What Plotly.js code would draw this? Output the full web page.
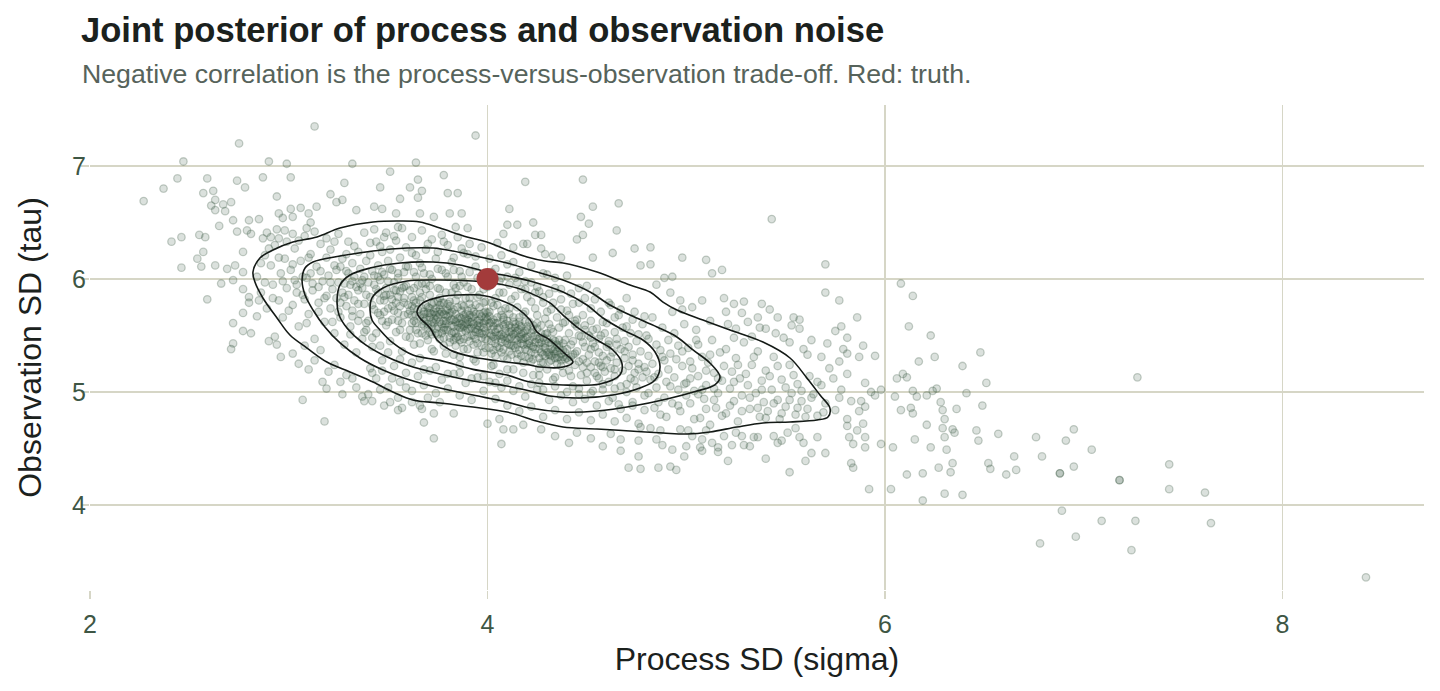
<!DOCTYPE html>
<html>
<head>
<meta charset="utf-8">
<script src="https://cdn.plot.ly/plotly-3.0.1.min.js"></script>
<style>
  html, body { margin: 0; padding: 0; background: #ffffff; }
  #chart { width: 1440px; height: 691px; }
</style>
</head>
<body>
<div id="chart"></div>
<script>
// Posterior draws of (sigma, tau): outlying draws
const tailDraws = [
  [3.13,7.35],[2.75,7.20],[2.47,7.04],[2.90,7.04],[2.99,7.02],[3.32,7.02],[3.64,7.03],[3.51,6.95],[3.78,6.92],[2.44,6.89],
  [2.59,6.89],[2.74,6.87],[2.87,6.90],[3.01,6.90],[3.28,6.85],[3.65,6.88],[2.37,6.80],[2.57,6.76],[2.62,6.78],[2.78,6.81],
  [3.46,6.81],[3.61,6.81],[3.67,6.78],[3.80,6.76],[2.27,6.69],[2.63,6.70],[2.67,6.66],[2.71,6.68],[2.94,6.73],[3.21,6.75],
  [3.24,6.68],[3.27,6.70],[3.56,6.71],[3.65,6.72],[2.61,6.65],[2.68,6.60],[2.63,6.61],[3.01,6.62],[3.06,6.63],[3.14,6.64],
  [3.43,6.64],[3.47,6.62],[2.95,6.58],[3.10,6.58],[3.34,6.61],[3.54,6.58],[3.66,6.58],[3.81,6.58],[2.72,6.52],[2.80,6.52],
  [2.85,6.53],[2.97,6.54],[3.02,6.55],[3.11,6.50],[2.65,6.47],[2.74,6.42],[2.79,6.43],[2.81,6.40],[2.89,6.41],[2.98,6.43],
  [3.02,6.40],[3.09,6.45],[2.41,6.33],[2.46,6.37],[2.55,6.39],[2.58,6.37],[2.91,6.37],[2.95,6.36],[2.57,6.24],[2.77,6.24],
  [2.54,6.18],[2.63,6.12],[2.56,6.11],[2.46,6.10],[2.69,6.09],[2.73,6.12],[2.77,6.06],[2.66,5.96],[2.72,5.99],[2.77,5.91],
  [2.59,5.82],[2.80,5.84],[2.80,5.79],[2.85,5.81],[2.77,5.70],[2.72,5.61],[2.84,5.67],[2.77,5.54],[2.81,5.52],[2.90,5.45],
  [2.93,5.49],[2.72,5.43],[2.71,5.38],[2.94,5.42],[2.96,5.31],[3.05,5.25],[3.10,5.20],[3.17,5.09],[3.19,5.03],[3.27,4.98],
  [3.07,4.93],[3.18,4.74],[3.32,5.12],[3.37,4.96],[3.38,4.92],[3.42,4.92],[3.48,4.88],[3.51,4.91],[3.55,4.84],[3.57,4.86],
  [3.66,4.88],[3.68,4.73],[3.67,4.85],[3.73,4.81],[3.73,4.59],[3.83,4.81],[3.16,5.37],[3.23,5.24],[3.29,5.15],[3.42,5.17],
  [3.52,5.12],[3.59,5.04],[3.70,4.95],[3.76,4.91],
  [4.00,4.72],[4.06,4.76],[4.08,4.67],[4.13,4.67],[4.07,4.54],[4.18,4.71],[4.27,4.67],[4.45,4.64],[4.62,4.63],[4.67,4.58],
  [4.67,4.48],[4.76,4.57],[4.76,4.43],[4.71,4.33],[4.77,4.32],[4.86,4.33],[4.92,4.34],[4.95,4.31],[4.88,4.53],[5.00,4.52],
  [4.99,4.43],[5.08,4.58],[5.07,4.51],[5.08,4.48],[5.16,4.51],[5.16,4.47],[5.19,4.61],[5.23,4.53],[5.21,4.39],[5.29,4.53],
  [5.28,4.61],[5.36,4.60],[5.44,4.61],[5.46,4.55],[5.40,4.41],[5.51,4.64],[5.57,4.60],[5.59,4.55],[5.63,4.46],[5.60,4.39],
  [5.66,4.60],[5.70,4.46],[5.52,4.29],[5.01,4.66],[5.34,4.60],[5.10,4.66],[4.97,4.67],[4.82,4.68],[4.77,4.69],[4.87,4.66],
  [5.89,5.41],[5.79,5.38],[5.81,5.34],[5.87,5.31],[5.95,5.32],[5.77,5.27],[6.17,5.27],[6.25,5.31],[6.48,5.35],[6.39,5.23],
  [5.81,5.16],[6.09,5.16],[6.11,5.13],[6.06,5.12],[5.90,5.08],[6.51,5.08],[7.27,5.13],[5.93,5.00],[5.95,4.97],[5.98,5.02],
  [6.05,4.96],[6.14,5.01],[6.16,4.96],[6.21,4.97],[6.24,5.01],[6.26,5.03],[6.41,4.99],[5.77,4.95],[5.88,4.92],[6.28,4.91],
  [6.49,4.88],[5.87,4.83],[5.90,4.87],[6.08,4.84],[6.13,4.86],[6.14,4.81],[6.29,4.84],[6.36,4.85],[5.81,4.76],[6.30,4.76],
  [5.81,4.70],[5.89,4.72],[6.21,4.71],[6.29,4.68],[6.34,4.67],[6.35,4.64],[6.46,4.66],[6.57,4.63],[6.76,4.60],[6.95,4.67],
  [6.91,4.57],[7.04,4.49],[5.86,4.66],[5.82,4.60],[5.90,4.60],[6.30,4.60],[6.15,4.58],[6.47,4.57],[5.84,4.54],[5.90,4.51],
  [5.98,4.54],[6.04,4.51],[6.23,4.51],[6.31,4.49],[6.65,4.43],[6.79,4.43],[5.83,4.37],[5.84,4.33],[6.11,4.27],[6.19,4.28],
  [6.27,4.33],[6.34,4.37],[6.33,4.29],[6.52,4.37],[6.53,4.32],[6.61,4.27],[6.66,4.31],[6.88,4.28],[6.88,4.28],[6.95,4.34],
  [7.18,4.22],[7.18,4.22],[7.43,4.36],[5.92,4.14],[6.03,4.14],[6.19,4.04],[6.30,4.10],[6.39,4.09],[7.43,4.14],[7.61,4.11],
  [6.89,3.95],[7.09,3.86],[7.26,3.86],[7.64,3.84],[6.78,3.66],[6.96,3.72],[7.24,3.60],[8.42,3.36],
  [6.08,5.96],[6.14,5.85],[6.12,5.58],[6.23,5.50],[5.77,5.81],[5.86,5.66],[5.78,5.58],[5.81,5.48],
  [3.94,7.27],[3.85,6.76],[4.19,6.86],[4.48,6.88],[4.11,6.62],[4.53,6.64],[4.66,6.67],[3.87,6.58],[4.23,6.50],[4.10,6.48],
  [4.15,6.48],[4.47,6.55],[4.51,6.49],[4.65,6.43],[3.84,6.46],[3.90,6.45],[4.08,6.40],[4.24,6.39],[4.27,6.39],[4.45,6.35],
  [4.48,6.39],[4.63,6.23],[4.74,6.27],[4.82,6.28],[4.53,6.19],[4.77,6.12],[4.82,6.13],[4.98,6.19],[5.10,6.17],[5.18,6.08],
  [5.13,6.05],[5.43,6.53],[5.70,6.13],[5.70,5.88],[4.89,6.01],[4.93,6.02],[4.92,5.88],[4.85,5.95],[4.97,5.81],[5.03,5.75],
  [5.08,5.81],[5.19,5.83],[5.24,5.78],[5.29,5.80],[5.28,5.70],[5.38,5.78],[5.42,5.73],[5.46,5.66],[5.36,5.66],[5.54,5.66],
  [5.57,5.64],[5.53,5.59],[5.57,5.56],[5.25,5.56],[5.33,5.49],[5.37,5.57],[5.40,5.56],[5.49,5.48],[5.63,5.46],[5.71,5.43],
  [5.75,5.54],[4.98,5.73],[5.24,5.48],[5.05,5.46],
  [4.05,6.32],[4.13,6.28],[4.18,6.31],[4.20,6.31],[4.33,6.21],[4.37,6.19],[4.29,6.22],[4.27,6.27],[3.48,6.37],[3.55,6.46],
  [3.73,6.55],[3.78,6.33],[3.87,6.27]
];

// Posterior draws of (sigma, tau): bulk of the cloud
const bulkDraws = [
  [2.84,6.02],[2.86,5.88],[2.88,6.21],[2.89,5.74],[2.91,6.12],[2.92,5.95],[2.93,6.30],[2.95,5.81],[2.96,6.05],[2.97,5.66],
  [2.98,6.18],[2.99,5.92],[2.87,6.36],[2.94,6.44],
  [3.01,6.08],[3.02,5.77],[3.03,6.27],[3.04,5.95],[3.05,5.58],[3.06,6.16],[3.07,5.86],[3.08,6.38],[3.09,6.01],[3.10,5.69],
  [3.11,6.22],[3.12,5.90],[3.13,5.47],[3.14,6.11],[3.15,5.79],[3.16,6.31],[3.17,5.98],[3.18,5.62],[3.19,6.19],[3.19,5.85],
  [3.03,5.99],[3.11,6.05],[3.15,5.93],[3.08,5.82],
  [3.20,6.03],[3.21,5.74],[3.21,6.26],[3.22,5.91],[3.23,5.52],[3.23,6.12],[3.24,5.83],[3.25,6.40],[3.25,5.97],[3.26,5.66],
  [3.27,6.18],[3.27,5.88],[3.28,5.42],[3.29,6.07],[3.29,5.76],[3.30,6.33],[3.31,5.95],[3.31,5.58],[3.32,6.14],[3.33,5.81],
  [3.33,6.02],[3.34,5.35],[3.35,6.24],[3.35,5.90],[3.36,5.69],[3.36,6.09],[3.37,5.47],[3.37,5.99],[3.38,6.41],[3.38,5.78],
  [3.39,6.16],[3.39,5.86],[3.24,6.08],[3.28,5.96],[3.32,5.72],[3.34,5.93],[3.30,6.05],[3.26,5.79],
  [3.40,5.97],[3.40,5.63],[3.41,6.21],[3.41,5.84],[3.42,5.40],[3.42,6.07],[3.43,5.73],[3.43,5.95],[3.44,6.33],[3.44,5.52],
  [3.45,5.88],[3.45,6.12],[3.46,5.68],[3.46,5.99],[3.47,5.28],[3.47,6.24],[3.48,5.81],[3.48,6.04],[3.49,5.59],[3.49,5.92],
  [3.50,6.16],[3.50,5.74],[3.51,5.45],[3.51,5.86],[3.52,6.08],[3.52,5.64],[3.53,5.97],[3.53,6.38],[3.54,5.79],[3.54,5.53],
  [3.55,6.01],[3.55,5.70],[3.56,6.19],[3.56,5.89],[3.57,5.36],[3.57,5.61],[3.58,6.06],[3.58,5.83],[3.59,5.49],[3.59,5.94],
  [3.42,5.77],[3.44,5.91],[3.46,5.81],[3.48,5.71],[3.50,5.98],[3.52,5.82],[3.54,5.90],[3.56,5.76],[3.58,5.68],[3.45,6.02],
  [3.49,5.86],[3.53,5.72],[3.57,5.92],[3.47,5.63],[3.55,5.84],
  [3.60,5.77],[3.60,6.11],[3.61,5.55],[3.61,5.90],[3.62,5.68],[3.62,6.23],[3.63,5.81],[3.63,5.42],[3.64,6.02],[3.64,5.61],
  [3.65,5.73],[3.65,5.95],[3.66,5.30],[3.66,6.14],[3.67,5.84],[3.67,5.52],[3.68,5.66],[3.68,6.05],[3.69,5.77],[3.69,5.91],
  [3.70,5.46],[3.70,6.31],[3.71,5.70],[3.71,5.86],[3.72,5.58],[3.72,6.00],[3.73,5.36],[3.73,5.79],[3.74,5.64],[3.74,6.18],
  [3.75,5.92],[3.75,5.51],[3.76,5.73],[3.76,5.83],[3.77,5.60],[3.77,6.08],[3.78,5.41],[3.78,5.69],[3.79,5.88],[3.79,5.55],
  [3.61,5.72],[3.62,5.84],[3.63,5.63],[3.64,5.79],[3.65,5.52],[3.66,5.67],[3.67,5.74],[3.68,5.59],[3.69,5.64],[3.70,5.75],
  [3.71,5.53],[3.72,5.69],[3.73,5.61],[3.74,5.74],[3.75,5.66],[3.76,5.47],[3.77,5.71],[3.78,5.79],[3.79,5.63],[3.64,5.68],
  [3.66,5.88],[3.68,5.71],[3.70,5.60],[3.72,5.78],[3.74,5.56],[3.76,5.62],[3.78,5.57],[3.62,5.61],[3.67,5.96],[3.71,5.94],
  [3.73,5.71],[3.75,5.80],[3.77,5.52],[3.79,5.72],[3.69,5.50],
  [3.80,5.67],[3.80,6.02],[3.81,5.48],[3.81,5.80],[3.82,5.59],[3.82,6.15],[3.83,5.73],[3.83,5.33],[3.84,5.92],[3.84,5.52],
  [3.85,5.65],[3.85,5.86],[3.86,5.24],[3.86,6.07],[3.87,5.77],[3.87,5.44],[3.88,5.58],[3.88,5.97],[3.89,5.69],[3.89,5.83],
  [3.90,5.38],[3.90,6.22],[3.91,5.62],[3.91,5.78],[3.92,5.50],[3.92,5.91],[3.93,5.29],[3.93,5.71],[3.94,5.56],[3.94,6.11],
  [3.95,5.84],[3.95,5.43],[3.96,5.64],[3.96,5.75],[3.97,5.52],[3.97,6.00],[3.98,5.35],[3.98,5.61],[3.99,5.80],[3.99,5.47],
  [3.80,5.55],[3.81,5.70],[3.82,5.64],[3.83,5.58],[3.84,5.62],[3.85,5.49],[3.86,5.66],[3.87,5.60],[3.88,5.68],[3.89,5.54],
  [3.90,5.72],[3.91,5.45],[3.92,5.66],[3.93,5.60],[3.94,5.69],[3.95,5.55],[3.96,5.58],[3.97,5.67],[3.98,5.51],[3.99,5.63],
  [3.81,5.76],[3.83,5.46],[3.85,5.75],[3.87,5.53],[3.89,5.61],[3.91,5.56],[3.93,5.50],[3.95,5.63],[3.97,5.41],[3.99,5.71],
  [3.82,5.88],[3.84,5.41],[3.86,5.57],[3.88,5.47],[3.90,5.64],[3.92,5.74],[3.94,5.47],[3.96,5.86],[3.98,5.70],[3.86,5.94],
  [4.00,5.58],[4.00,5.93],[4.01,5.39],[4.01,5.71],[4.02,5.50],[4.02,6.06],[4.03,5.64],[4.03,5.24],[4.04,5.83],[4.04,5.43],
  [4.05,5.56],[4.05,5.77],[4.06,5.16],[4.06,5.98],[4.07,5.68],[4.07,5.35],[4.08,5.49],[4.08,5.88],[4.09,5.60],[4.09,5.74],
  [4.10,5.29],[4.10,6.13],[4.11,5.53],[4.11,5.69],[4.12,5.41],[4.12,5.82],[4.13,5.20],[4.13,5.62],[4.14,5.47],[4.14,6.01],
  [4.15,5.75],[4.15,5.34],[4.16,5.55],[4.16,5.66],[4.17,5.43],[4.17,5.91],[4.18,5.26],[4.18,5.52],[4.19,5.71],[4.19,5.38],
  [4.00,5.46],[4.01,5.61],[4.02,5.55],[4.03,5.49],[4.04,5.53],[4.05,5.40],[4.06,5.57],[4.07,5.51],[4.08,5.59],[4.09,5.45],
  [4.10,5.63],[4.11,5.36],[4.12,5.57],[4.13,5.51],[4.14,5.60],[4.15,5.46],[4.16,5.49],[4.17,5.58],[4.18,5.42],[4.19,5.54],
  [4.01,5.67],[4.03,5.37],[4.05,5.66],[4.07,5.44],[4.09,5.52],[4.11,5.47],[4.13,5.41],[4.15,5.54],[4.17,5.32],[4.19,5.62],
  [4.04,5.32],[4.08,5.38],[4.12,5.49],[4.16,5.37],[4.02,5.79],
  [4.20,5.49],[4.20,5.84],[4.21,5.30],[4.21,5.62],[4.22,5.41],[4.22,5.97],[4.23,5.55],[4.23,5.15],[4.24,5.74],[4.24,5.34],
  [4.25,5.47],[4.25,5.68],[4.26,5.08],[4.26,5.89],[4.27,5.59],[4.27,5.26],[4.28,5.40],[4.28,5.79],[4.29,5.51],[4.29,5.65],
  [4.30,5.20],[4.30,6.04],[4.31,5.44],[4.31,5.60],[4.32,5.32],[4.32,5.73],[4.33,5.11],[4.33,5.53],[4.34,5.38],[4.34,5.92],
  [4.35,5.66],[4.35,5.25],[4.36,5.46],[4.36,5.57],[4.37,5.34],[4.37,5.82],[4.38,5.17],[4.38,5.43],[4.39,5.62],[4.39,5.29],
  [4.20,5.37],[4.22,5.52],[4.24,5.44],[4.26,5.38],[4.28,5.48],[4.30,5.35],[4.32,5.43],[4.34,5.30],[4.36,5.39],[4.38,5.31],
  [4.21,5.43],[4.23,5.29],[4.25,5.56],[4.27,5.35],[4.29,5.43],[4.31,5.27],[4.33,5.36],[4.35,5.42],[4.37,5.23],[4.39,5.46],
  [4.26,5.21],[4.32,5.56],
  [4.40,5.38],[4.40,5.72],[4.41,5.19],[4.41,5.52],[4.42,5.31],[4.42,5.87],[4.43,5.45],[4.43,5.05],[4.44,5.63],[4.44,5.24],
  [4.45,5.36],[4.45,5.58],[4.46,4.98],[4.46,5.79],[4.47,5.49],[4.47,5.15],[4.48,5.29],[4.48,5.68],[4.49,5.40],[4.49,5.55],
  [4.50,5.10],[4.50,5.94],[4.51,5.33],[4.51,5.50],[4.52,5.22],[4.52,5.63],[4.53,5.01],[4.53,5.43],[4.54,5.27],[4.54,5.82],
  [4.55,5.56],[4.55,5.14],[4.56,5.35],[4.56,5.47],[4.57,5.23],[4.57,5.71],[4.58,5.07],[4.58,5.32],[4.59,5.52],[4.59,5.18],
  [4.42,5.42],[4.44,5.34],[4.46,5.27],[4.48,5.44],[4.50,5.26],[4.52,5.38],[4.54,5.17],[4.56,5.26],
  [4.60,5.28],[4.60,5.61],[4.61,5.09],[4.61,5.42],[4.62,5.21],[4.62,5.77],[4.63,5.35],[4.63,4.95],[4.64,5.53],[4.64,5.14],
  [4.65,5.26],[4.65,5.47],[4.66,4.89],[4.66,5.68],[4.67,5.38],[4.67,5.05],[4.68,5.19],[4.68,5.57],[4.69,5.30],[4.69,5.45],
  [4.70,5.00],[4.70,5.83],[4.71,5.23],[4.71,5.40],[4.72,5.12],[4.72,5.52],[4.73,4.91],[4.73,5.33],[4.74,5.17],[4.74,5.71],
  [4.75,5.45],[4.75,5.04],[4.76,5.25],[4.77,5.36],[4.78,5.13],[4.78,5.60],[4.79,4.97],[4.79,5.22],
  [4.80,5.18],[4.80,5.50],[4.81,4.99],[4.81,5.32],[4.82,5.11],[4.83,5.66],[4.83,5.25],[4.84,4.86],[4.85,5.42],[4.85,5.04],
  [4.86,5.16],[4.87,5.37],[4.87,4.80],[4.88,5.57],[4.89,5.28],[4.89,4.95],[4.90,5.09],[4.91,5.46],[4.91,5.20],[4.92,5.34],
  [4.93,4.90],[4.93,5.71],[4.94,5.13],[4.95,5.29],[4.96,5.02],[4.96,5.41],[4.97,4.83],[4.98,5.23],[4.99,5.07],[4.99,5.60],
  [5.00,5.08],[5.01,5.39],[5.02,4.90],[5.03,5.21],[5.04,5.01],[5.05,5.55],[5.06,5.14],[5.07,4.77],[5.08,5.31],[5.09,4.94],
  [5.10,5.06],[5.11,5.26],[5.12,4.71],[5.13,5.46],[5.14,5.17],[5.15,4.86],[5.16,4.99],[5.17,5.35],[5.18,5.10],[5.19,5.23],
  [5.02,5.12],[5.06,4.98],[5.10,5.19],[5.14,5.03],
  [5.20,4.81],[5.21,5.60],[5.22,5.03],[5.23,5.18],[5.24,4.92],[5.25,5.30],[5.26,4.74],[5.27,5.12],[5.28,4.97],[5.29,5.44],
  [5.31,5.06],[5.32,4.85],[5.33,5.24],[5.35,4.99],[5.36,5.36],[5.37,4.78],[5.38,5.10],[5.39,4.91],
  [5.40,5.19],[5.41,4.83],[5.43,5.02],[5.44,5.31],[5.46,4.93],[5.47,4.76],[5.48,5.11],[5.50,4.87],[5.52,5.24],[5.53,4.99],
  [5.55,4.80],[5.56,5.07],[5.58,4.92],[5.59,5.38],
  [5.61,4.85],[5.62,5.14],[5.64,4.98],[5.66,4.79],[5.68,5.06],[5.70,4.90],[5.72,5.21],[5.75,4.84]
];

// Further draws filling the rings between density levels
const ringDraws = [
  [2.86,6.14],[2.88,5.97],[2.90,6.27],[2.92,5.83],[2.95,6.19],[2.97,5.98],[2.99,6.33],[3.00,5.72],[3.02,6.13],[3.04,5.88],
  [3.05,6.34],[3.07,6.02],[3.09,5.61],[3.10,6.19],[3.12,5.96],[3.13,6.42],[3.15,5.71],[3.16,6.07],[3.18,5.83],[3.19,6.36],
  [3.21,5.97],[3.22,5.62],[3.23,6.33],[3.25,5.71],[3.26,6.11],[3.28,5.84],[3.29,6.22],[3.31,5.51],[3.32,5.98],[3.33,6.29],
  [3.35,5.63],[3.36,5.96],[3.38,6.02],[3.39,5.55],
  [3.41,6.32],[3.43,6.44],[3.46,6.29],[3.49,6.41],[3.51,6.26],[3.54,6.34],[3.57,6.45],[3.59,6.28],[3.62,6.37],[3.64,6.21],
  [3.67,6.43],[3.69,6.26],[3.72,6.35],[3.75,6.24],[3.77,6.39],[3.80,6.30],[3.83,6.19],[3.85,6.37],[3.88,6.23],[3.91,6.31],
  [3.94,6.20],[3.97,6.28],
  [3.41,5.21],[3.44,5.12],[3.47,5.19],[3.50,5.04],[3.53,5.23],[3.56,5.09],[3.59,5.17],[3.62,5.01],[3.65,5.14],[3.68,5.06],
  [3.71,5.19],[3.74,4.99],[3.77,5.11],[3.80,5.03],[3.83,5.16],[3.86,4.97],[3.89,5.08],[3.92,4.93],[3.95,5.13],[3.98,5.01],
  [3.52,5.76],[3.55,5.63],[3.58,5.79],[3.60,5.69],[3.62,5.76],[3.64,5.55],[3.66,5.81],[3.68,5.63],[3.70,5.70],[3.72,5.51],
  [3.74,5.68],[3.76,5.77],[3.78,5.63],[3.80,5.73],[3.82,5.52],[3.84,5.69],[3.86,5.61],[3.88,5.76],[3.90,5.56],[3.92,5.62],
  [3.94,5.53],[3.96,5.69],[3.98,5.57],[4.00,5.64],[4.02,5.45],[4.04,5.61],[4.06,5.50],[4.08,5.66],[4.10,5.43],[4.12,5.54],
  [4.14,5.39],[4.16,5.59],[4.18,5.47],[4.20,5.55],[4.22,5.35],[4.24,5.50],[4.26,5.43],[4.28,5.33],[4.30,5.47],[4.32,5.38],
  [4.34,5.45],[4.36,5.31],[4.38,5.37],[4.40,5.30],
  [3.63,5.74],[3.67,5.60],[3.71,5.66],[3.75,5.58],[3.79,5.68],[3.83,5.64],[3.87,5.57],[3.91,5.68],[3.95,5.59],[3.99,5.54],
  [4.03,5.58],[4.07,5.47],[4.11,5.59],[4.15,5.42],[4.19,5.48],[4.23,5.40],[4.27,5.52],[4.31,5.33],[4.35,5.36],
  [4.01,6.18],[4.04,6.09],[4.07,6.21],[4.10,6.02],[4.13,6.15],[4.16,6.06],[4.19,5.98],[4.22,6.12],[4.25,5.93],[4.28,6.05],
  [4.31,5.87],[4.34,6.01],[4.37,5.91],[4.40,6.03],[4.43,5.78],[4.46,5.92],[4.49,5.83],[4.52,5.74],[4.55,5.89],[4.58,5.62],
  [4.61,5.79],[4.64,5.66],[4.67,5.73],[4.70,5.58],[4.73,5.64],[4.76,5.51],[4.79,5.67],
  [4.01,5.09],[4.04,4.94],[4.07,5.04],[4.10,4.88],[4.13,5.01],[4.16,4.83],[4.19,4.96],[4.22,4.87],[4.25,5.02],[4.28,4.78],
  [4.31,4.93],[4.34,4.84],[4.37,4.97],[4.40,4.76],[4.43,4.91],[4.46,4.82],[4.49,4.94],[4.52,4.75],[4.55,4.88],[4.58,4.80],
  [4.61,4.92],[4.64,4.74],[4.67,4.85],[4.70,4.77],[4.73,4.88],[4.76,4.72],[4.79,4.84],
  [4.81,5.47],[4.84,5.13],[4.86,4.91],[4.88,5.31],[4.90,4.78],[4.92,5.05],[4.94,5.52],[4.96,4.88],[4.98,5.36],[5.00,4.97],
  [5.02,5.27],[5.04,4.76],[5.06,5.42],[5.08,5.02],[5.10,4.85],[5.12,5.33],[5.14,4.93],[5.16,5.12],[5.18,4.79],[5.20,5.38],
  [5.22,4.88],[5.24,5.09],[5.26,5.24],[5.28,4.83],[5.30,5.16],[5.32,4.95],[5.34,5.31],[5.36,4.86],[5.38,5.02],[5.40,4.77],
  [5.42,5.14],[5.44,4.90],[5.46,5.23],[5.48,4.81],[5.50,5.04],[5.52,4.93],[5.54,5.15],[5.56,4.86],[5.58,5.01],[5.60,4.78],
  [5.63,4.95],[5.66,5.09],[5.69,4.82],
  [4.34,4.61],[4.41,4.55],[4.52,4.59],[4.58,4.52],[4.85,4.58],[4.93,4.49],[5.03,4.61],[5.13,4.55],[5.25,4.64],[5.32,4.52],
  [5.48,4.57],[5.55,4.68],[5.12,5.63],[5.20,5.71],[5.31,5.62],[5.45,5.52],[5.52,5.44],[5.61,5.33],[5.68,5.31],[5.74,5.12],
  [5.78,5.02],[5.83,4.92],
  [3.02,5.34],[3.08,5.41],[3.13,5.28],[3.20,5.18],[3.26,5.09],[3.34,5.04],[3.40,4.98],[3.46,5.02],[3.55,4.95],[3.62,4.91]
];

// Draws in the high-density core
const coreDraws = [
  [3.68,5.69],[3.70,5.57],[3.71,5.74],[3.73,5.65],[3.74,5.52],[3.76,5.69],[3.77,5.79],[3.78,5.48],[3.79,5.60],[3.80,5.78],
  [3.81,5.44],[3.82,5.71],[3.83,5.53],[3.84,5.81],[3.85,5.59],[3.86,5.46],[3.87,5.72],[3.88,5.38],[3.89,5.65],[3.90,5.49],
  [3.91,5.83],[3.92,5.57],[3.93,5.42],[3.94,5.77],[3.95,5.35],[3.96,5.61],[3.97,5.48],[3.98,5.79],[3.99,5.39],[4.00,5.70],
  [4.01,5.52],[4.02,5.34],[4.03,5.76],[4.04,5.47],[4.05,5.61],[4.06,5.39],[4.07,5.72],[4.08,5.31],[4.09,5.56],[4.10,5.48],
  [4.11,5.74],[4.12,5.33],[4.13,5.66],[4.14,5.52],[4.15,5.29],[4.16,5.62],[4.17,5.47],[4.18,5.69],[4.19,5.31],[4.20,5.58],
  [4.21,5.45],[4.22,5.27],[4.23,5.49],[4.24,5.38],[4.25,5.61],[4.26,5.30],[4.27,5.44],[4.28,5.26],[4.29,5.39],[4.30,5.52],
  [4.31,5.35],[4.32,5.28],[4.33,5.46],[4.34,5.34],[4.35,5.30],[4.36,5.41],[4.37,5.28],[4.39,5.35],[4.41,5.28],[4.43,5.33],
  [3.72,5.62],[3.75,5.71],[3.78,5.55],[3.81,5.63],[3.84,5.48],[3.87,5.65],[3.90,5.60],[3.93,5.67],[3.96,5.52],[3.99,5.66],
  [4.02,5.62],[4.05,5.50],[4.08,5.64],[4.11,5.42],[4.14,5.57],[4.17,5.51],[4.20,5.42],[4.23,5.59],[4.26,5.47],[4.29,5.32],
  [3.45,5.70],[3.48,5.85],[3.50,5.62],[3.53,5.90],[3.56,5.55],[3.58,5.93],[3.61,5.48],[3.63,5.92],[3.66,5.43],[3.69,5.96],
  [3.72,5.38],[3.76,5.91],[3.79,5.34],[3.83,5.95],[3.86,5.31],[3.90,5.93],[3.94,5.27],[3.98,5.91],[4.02,5.23],[4.06,5.88],
  [4.10,5.20],[4.14,5.85],[4.18,5.17],[4.22,5.80],[4.26,5.15],[4.30,5.71],[4.34,5.13],[4.38,5.61],[4.42,5.14],[4.46,5.50],
  [4.50,5.17],[4.54,5.40],[4.58,5.22],[4.62,5.31],[4.48,5.22],[4.44,5.60],[4.52,5.48],[4.56,5.12],[4.60,5.40],[4.64,5.20],
  [3.30,5.86],[3.32,5.67],[3.35,5.78],[3.37,5.92],[3.39,5.61],[3.43,6.03],[3.47,6.06],[3.51,6.09],[3.55,6.05],[3.59,6.11],
  [3.63,6.06],[3.67,6.10],[3.71,6.04],[3.75,6.09],[3.79,6.05],[3.83,6.08],[3.87,6.02],[3.91,6.06],[3.95,6.01],[3.99,6.04],
  [4.03,5.98],[4.07,6.01],[4.11,5.95],[4.15,5.97],[4.19,5.91],[4.24,5.88],[4.28,5.84],[4.33,5.79],[4.37,5.73],[4.41,5.68],
  [4.45,5.64],[4.49,5.59],[4.53,5.55],[4.57,5.50],[4.61,5.45],[4.65,5.42],[4.69,5.36],[4.73,5.28],[4.76,5.20],[4.74,5.10],
  [4.70,5.07],[4.64,5.03],[4.58,5.02],[4.52,4.99],[4.46,5.03],[4.40,5.00],[4.34,5.05],[4.28,5.02],[4.22,5.07],[4.16,5.05],
  [4.10,5.10],[4.04,5.08],[3.98,5.14],[3.92,5.12],[3.86,5.17],[3.80,5.16],[3.74,5.22],[3.68,5.20],[3.62,5.26],[3.56,5.29],
  [3.50,5.35],[3.46,5.41],[3.42,5.48],[3.38,5.53]
];

// 2-D density contour paths (sigma, tau), outermost to innermost
const densityRing1 = [
  [2.820,6.062],[2.855,6.186],[2.921,6.257],[3.021,6.327],[3.142,6.372],[3.258,6.451],[3.424,6.504],[3.560,6.513],
  [3.660,6.504],[3.761,6.451],[3.897,6.372],[3.997,6.327],[4.098,6.257],[4.199,6.195],[4.289,6.159],[4.380,6.142],
  [4.551,6.062],[4.717,5.947],[4.818,5.885],[4.883,5.796],[4.953,5.726],[5.084,5.637],[5.220,5.549],[5.386,5.442],
  [5.522,5.301],[5.607,5.124],[5.673,4.973],[5.723,4.858],[5.713,4.779],[5.658,4.752],[5.522,4.735],[5.386,4.726],
  [5.255,4.690],[5.119,4.646],[5.004,4.628],[4.883,4.637],[4.717,4.655],[4.551,4.673],[4.380,4.690],[4.264,4.735],
  [4.098,4.823],[3.927,4.867],[3.761,4.903],[3.625,4.929],[3.524,5.000],[3.424,5.088],[3.308,5.177],[3.192,5.265],
  [3.092,5.389],[3.006,5.504],[2.941,5.655],[2.870,5.832],[2.830,5.973],[2.820,6.062]
];
const densityRing2 = [
  [3.067,5.991],[3.082,6.097],[3.122,6.150],[3.258,6.203],[3.424,6.248],[3.595,6.274],[3.726,6.274],[3.826,6.248],
  [3.962,6.195],[4.098,6.142],[4.214,6.080],[4.380,5.991],[4.516,5.885],[4.616,5.770],[4.717,5.681],[4.853,5.575],
  [4.953,5.487],[5.034,5.372],[5.119,5.257],[5.170,5.133],[5.144,5.062],[5.054,5.009],[4.903,4.938],[4.732,4.876],
  [4.551,4.832],[4.380,4.823],[4.214,4.858],[4.098,4.911],[3.927,4.973],[3.761,5.035],[3.610,5.106],[3.474,5.195],
  [3.358,5.301],[3.258,5.434],[3.182,5.575],[3.122,5.726],[3.082,5.858],[3.067,5.991]
];
const densityRing3 = [
  [3.243,5.814],[3.258,5.947],[3.308,6.035],[3.409,6.097],[3.560,6.142],[3.726,6.150],[3.861,6.124],[3.997,6.062],
  [4.128,6.018],[4.214,5.982],[4.380,5.885],[4.500,5.770],[4.581,5.655],[4.682,5.549],[4.782,5.460],[4.843,5.354],
  [4.868,5.221],[4.843,5.106],[4.767,5.035],[4.631,4.973],[4.465,4.947],[4.314,4.964],[4.214,5.009],[4.098,5.053],
  [3.927,5.097],[3.761,5.159],[3.595,5.239],[3.474,5.327],[3.373,5.434],[3.293,5.566],[3.253,5.681],[3.243,5.814]
];
const densityRing4 = [
  [3.409,5.726],[3.419,5.832],[3.474,5.920],[3.595,5.982],[3.761,5.991],[3.927,5.982],[4.027,5.965],[4.148,5.920],
  [4.214,5.876],[4.314,5.788],[4.380,5.681],[4.450,5.575],[4.551,5.460],[4.631,5.372],[4.676,5.257],[4.666,5.150],
  [4.566,5.071],[4.380,5.062],[4.214,5.088],[4.098,5.150],[3.927,5.200],[3.761,5.280],[3.625,5.327],[3.524,5.434],
  [3.459,5.549],[3.419,5.637],[3.409,5.726]
];
const densityRing5 = [
  [3.645,5.708],[3.675,5.788],[3.761,5.841],[3.846,5.858],[3.962,5.858],[4.063,5.814],[4.148,5.743],[4.214,5.637],
  [4.249,5.531],[4.314,5.460],[4.380,5.354],[4.430,5.265],[4.380,5.221],[4.264,5.221],[4.214,5.239],[4.098,5.265],
  [3.927,5.310],[3.811,5.372],[3.746,5.460],[3.711,5.566],[3.660,5.655],[3.645,5.708]
];

// True generating values
const trueSigma = [4.0];
const trueTau = [6.0];

const xTicks = [2, 4, 6, 8];
const yTicks = [4, 5, 6, 7];

const allDraws = tailDraws.concat(bulkDraws, ringDraws, coreDraws);
const sigmaDraws = allDraws.map(d => d[0]);
const tauDraws = allDraws.map(d => d[1]);

const gridColor = '#d6d6c6';
const tickColor = '#3e5644';
const font = 'Liberation Sans, Arial, Helvetica, sans-serif';

const traces = [{
  type: 'scatter',
  mode: 'markers',
  x: sigmaDraws,
  y: tauDraws,
  marker: {
    size: 7.5,
    color: 'rgba(56,86,64,0.18)',
    line: { width: 1.3, color: 'rgba(56,86,64,0.27)' }
  },
  hoverinfo: 'skip',
  showlegend: false
}];

[densityRing1, densityRing2, densityRing3, densityRing4, densityRing5].forEach(ring => {
  traces.push({
    type: 'scatter',
    mode: 'lines',
    x: ring.map(p => p[0]),
    y: ring.map(p => p[1]),
    line: { color: '#141a16', width: 1.6, shape: 'spline', smoothing: 1 },
    hoverinfo: 'skip',
    showlegend: false
  });
});

traces.push({
  type: 'scatter',
  mode: 'markers',
  x: trueSigma,
  y: trueTau,
  marker: { size: 22, color: '#a33b3b', line: { width: 0 } },
  hoverinfo: 'skip',
  showlegend: false
});

const layout = {
  width: 1440,
  height: 691,
  paper_bgcolor: '#ffffff',
  plot_bgcolor: '#ffffff',
  margin: { l: 90, r: 16, t: 105, b: 101 },
  font: { family: font, color: tickColor },
  title: {
    text: '<b>Joint posterior of process and observation noise</b>',
    font: { family: font, size: 34.6, color: '#1b211d' },
    xref: 'container', yref: 'container',
    x: 81 / 1440, xanchor: 'left',
    y: 1 - 30 / 691, yanchor: 'middle'
  },
  annotations: [{
    text: 'Negative correlation is the process-versus-observation trade-off. Red: truth.',
    xref: 'paper', yref: 'paper',
    x: -10 / 1334, xanchor: 'left',
    y: (590 - 74) / 485, yanchor: 'middle',
    showarrow: false,
    font: { family: font, size: 26.7, color: '#56635b' }
  }],
  xaxis: {
    range: [2, 2 + 1334 / 198.75],
    tickvals: xTicks,
    ticktext: xTicks.map(String),
    showgrid: true, gridcolor: gridColor, gridwidth: 1.4,
    zeroline: false, showline: false,
    ticks: 'outside', ticklen: 8, tickwidth: 1.4, tickcolor: gridColor,
    tickfont: { family: font, size: 25, color: tickColor },
    ticklabelstandoff: 4,
    title: { text: 'Process SD (sigma)', font: { family: font, size: 32, color: '#1b211d' }, standoff: 10 },
    automargin: false
  },
  yaxis: {
    range: [4 - 85 / 113, 7 + 61 / 113],
    tickvals: yTicks,
    ticktext: yTicks.map(String),
    showgrid: true, gridcolor: gridColor, gridwidth: 1.4,
    zeroline: false, showline: false,
    ticks: 'outside', ticklen: 8, tickwidth: 1.4, tickcolor: gridColor,
    tickfont: { family: font, size: 25, color: tickColor },
    ticklabelstandoff: -10,
    title: { text: 'Observation SD (tau)', font: { family: font, size: 32, color: '#1b211d' }, standoff: 20 },
    automargin: false
  }
};

Plotly.newPlot('chart', traces, layout, { displayModeBar: false, staticPlot: true });
</script>
</body>
</html>
